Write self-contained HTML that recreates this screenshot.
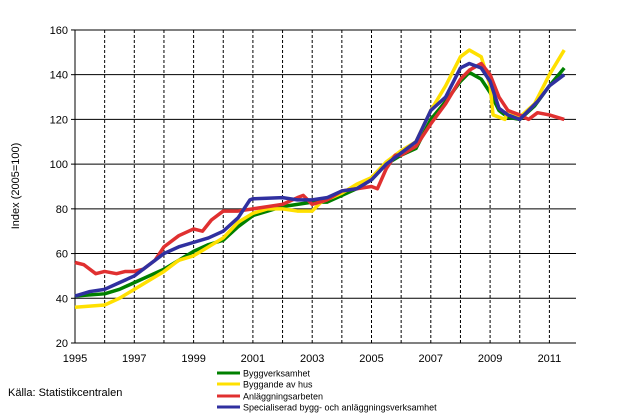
<!DOCTYPE html>
<html><head><meta charset="utf-8"><style>
body{margin:0;background:#fff;}
svg{display:block;font-family:"Liberation Sans",sans-serif;}
</style></head><body>
<svg width="617" height="417" viewBox="0 0 617 417">
<g id="grid"></g>
<g id="series"></g>
<g font-size="11" fill="#000" id="labels"></g>
<text x="19" y="186" font-size="11" transform="rotate(-90 19 186)" text-anchor="middle">Index (2005=100)</text>
<text x="8" y="396" font-size="11">Källa: Statistikcentralen</text>
<g font-size="9">
<line x1="217" y1="373" x2="240" y2="373" stroke="#008000" stroke-width="3"/><text x="243" y="376.5">Byggverksamhet</text>
<line x1="217" y1="384" x2="240" y2="384" stroke="#ffe000" stroke-width="3"/><text x="243" y="387.5">Byggande av hus</text>
<line x1="217" y1="396" x2="240" y2="396" stroke="#e03030" stroke-width="3"/><text x="243" y="399.5">Anläggningsarbeten</text>
<line x1="217" y1="407" x2="240" y2="407" stroke="#3030a0" stroke-width="3"/><text x="243" y="410.5">Specialiserad bygg- och anläggningsverksamhet</text>
</g>
</svg>
<script>
const X=y=>75+(y-1995)*29.65, Y=v=>343-(v-20)*2.236;
const ns="http://www.w3.org/2000/svg";
function el(p,t,a){const e=document.createElementNS(ns,t);for(const k in a)e.setAttribute(k,a[k]);p.appendChild(e);return e;}
const g=document.getElementById('grid'),s=document.getElementById('series'),lb=document.getElementById('labels');
for(let v=40;v<=160;v+=20)el(g,'line',{x1:75,x2:576,y1:Y(v),y2:Y(v),stroke:'#000','stroke-width':1});
for(let y=1996;y<=2011;y++)el(g,'line',{x1:X(y),x2:X(y),y1:30,y2:343,stroke:'#000','stroke-width':1,'stroke-dasharray':'3,2'});
el(g,'line',{x1:75,x2:75,y1:30,y2:343,stroke:'#000'});
el(g,'line',{x1:75,x2:576,y1:343,y2:343,stroke:'#000'});
for(let v=20;v<=160;v+=20){el(g,'line',{x1:71,x2:75,y1:Y(v),y2:Y(v),stroke:'#000'});const t=el(lb,'text',{x:68,y:Y(v)+4,'text-anchor':'end'});t.textContent=v;}
for(let y=1995;y<=2011;y+=2){const t=el(lb,'text',{x:X(y),y:362,'text-anchor':'middle'});t.textContent=y;}
const D={
'#008000':[[1995,41],[1996,42],[1996.5,44],[1997,47],[1998,53],[1999,61],[1999.5,64],[2000,66],[2000.5,72],[2001,77],[2001.5,79],[2002,81],[2002.5,82],[2003,83],[2003.5,83],[2004,86],[2004.5,89],[2005,93],[2005.5,100],[2006,104],[2006.5,107],[2007,120],[2007.5,128],[2008,137],[2008.3,141],[2008.7,138],[2009,132],[2009.3,124],[2009.6,121],[2010,120],[2010.5,126],[2011,135],[2011.5,143]],
'#ffe000':[[1995,36],[1996,37],[1996.5,40],[1997,44],[1998,52],[1998.5,57],[1999,59],[1999.5,63],[2000,67],[2000.5,74],[2001,78],[2001.5,80],[2002,80],[2002.5,79],[2003,79],[2003.3,83],[2004,87],[2004.5,91],[2005,94],[2005.5,101],[2006,106],[2006.5,110],[2007,124],[2007.5,135],[2008,148],[2008.3,151],[2008.7,148],[2009,135],[2009.1,122],[2009.5,120],[2009.6,124],[2010,121],[2010.5,127],[2011,140],[2011.5,151]],
'#e03030':[[1995,56],[1995.3,55],[1995.7,51],[1996,52],[1996.4,51],[1996.7,52],[1997,52],[1997.3,53],[1997.7,57],[1998,63],[1998.5,68],[1999,71],[1999.3,70],[1999.6,75],[2000,79],[2000.5,79],[2001,80],[2001.5,81],[2002,82],[2002.5,85],[2002.7,86],[2003,82],[2003.5,84],[2004,88],[2004.5,89],[2005,90],[2005.2,89],[2005.5,98],[2005.8,104],[2006,104],[2006.5,108],[2007,118],[2007.5,127],[2008,138],[2008.3,142],[2008.7,145],[2009,140],[2009.3,130],[2009.6,124],[2010,122],[2010.3,120],[2010.6,123],[2011,122],[2011.5,120]],
'#3030a0':[[1995,41],[1995.5,43],[1996,44],[1996.5,47],[1997,50],[1997.5,55],[1998,60],[1998.5,63],[1999,65],[1999.5,67],[2000,70],[2000.5,76],[2000.9,84],[2001,84.5],[2002,85],[2002.5,84],[2003,84],[2003.5,85],[2004,88],[2004.5,89],[2005,93],[2005.5,100],[2006,105],[2006.5,110],[2007,124],[2007.5,130],[2008,143],[2008.3,145],[2008.7,143],[2009,137],[2009.3,125],[2009.6,122],[2010,120],[2010.3,124],[2010.6,128],[2011,135],[2011.5,140]]};
for(const c in D)el(s,'polyline',{points:D[c].map(p=>X(p[0])+','+Y(p[1])).join(' '),fill:'none',stroke:c,'stroke-width':3.5,'stroke-linejoin':'round'});
</script>
</body></html>
